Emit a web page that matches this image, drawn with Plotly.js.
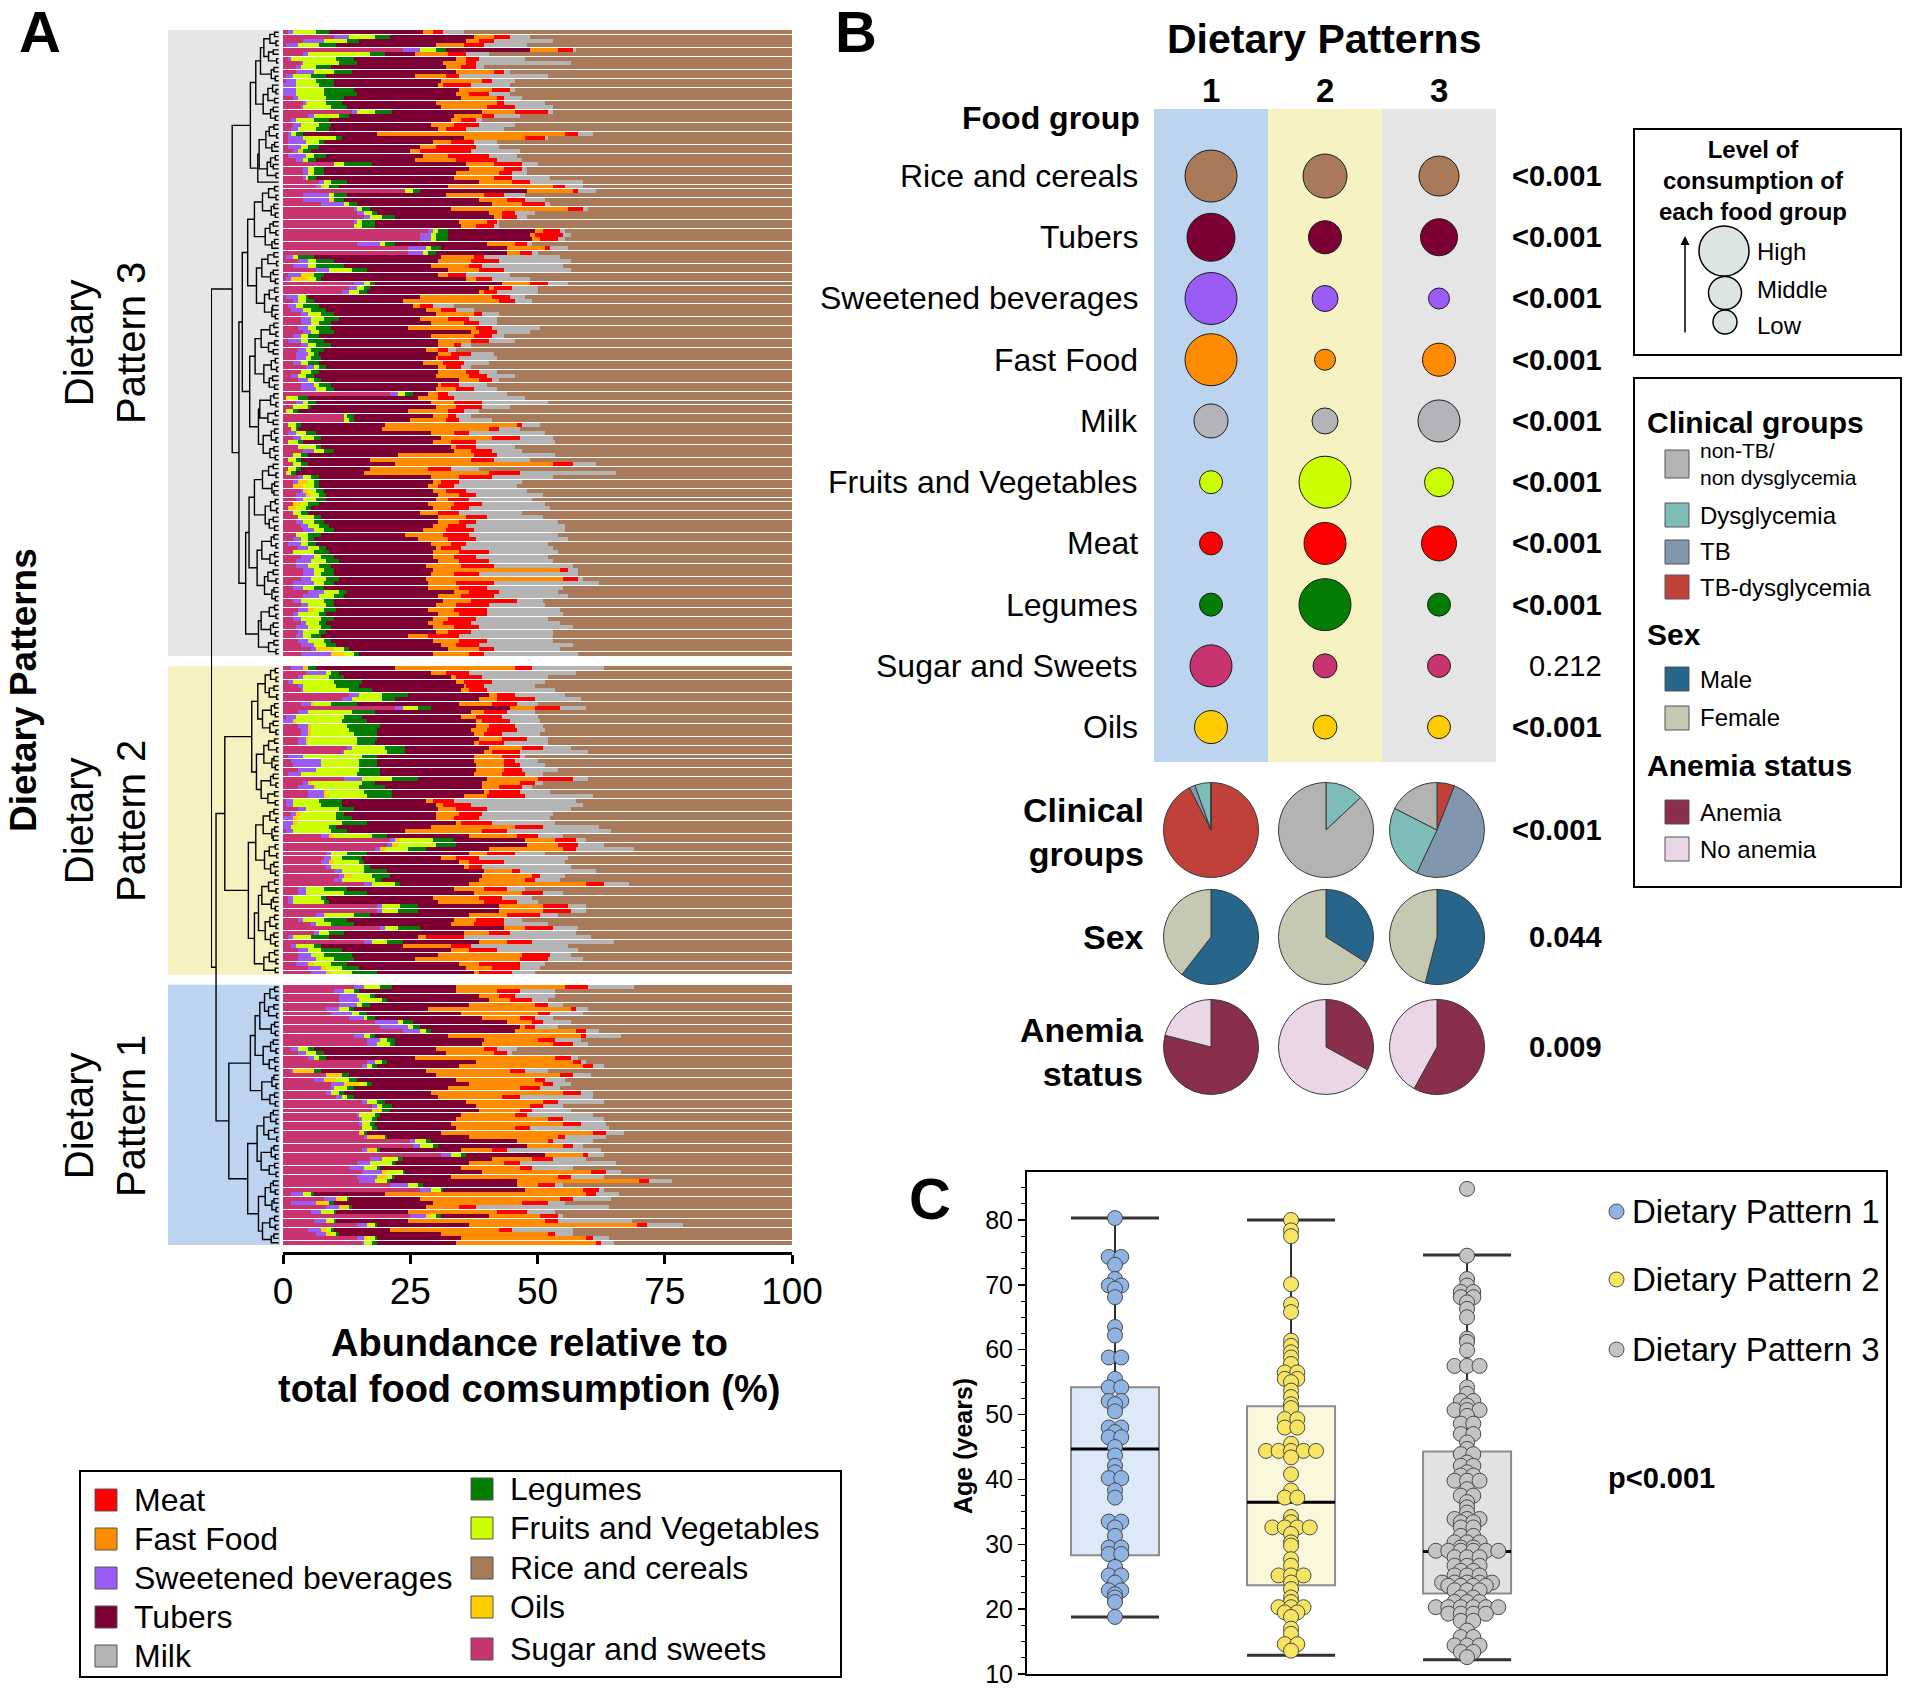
<!DOCTYPE html>
<html>
<head>
<meta charset="utf-8">
<title>Dietary patterns</title>
<script src="https://cdn.plot.ly/plotly-3.0.1.min.js"></script>
<style>
html,body{margin:0;padding:0;background:#ffffff;}
#chart{width:1905px;height:1688px;}
</style>
</head>
<body>
<div id="chart"></div>
<script>
// ====================== DATA ======================
// Panel A: food groups in stacking order (left to right) and colours
const foodGroups = ['Sugar and sweets','Sweetened beverages','Oils','Fruits and Vegetables','Legumes','Tubers','Fast Food','Meat','Milk','Rice and cereals'];
const foodColors = ['#c8346f','#9b5cf6','#ffcc00','#ccff00','#037d03','#7d0034','#ff8c00','#ff0000','#b4b4b4','#a97a5a'];

// Dietary Pattern 3 (top block), % of total consumption per participant, rows top -> bottom
const sugar3 = [1,10,4,0.5,23.5,4,1,3.5,2.5,2.5, 0.5,0.5,0,0,0,2,4,3.5,13.5,5, 1.5,2,1.5,1,1,1,1,2,1,2.5, 10,4,4,4,7,6.5,24,4,4,7.5, 14,14.5,16,14,14,28.5,27,27,14.5,24.5, 24.5,0.5,3,2,6.5,1,0.5,14,13,11.5, 0.5,2,1,1.5,3.5,3.5,3.5,3,4,2, 1,3.5,3,2.5,2.5,2,4.5,3.5,1.5,3, 3.5,3.5,21,0.5,2.5,2,0.5,12,12,1, 1.5,1,2,1,3,4,2,1,2,1, 0.5,3,2,2,3.5,2.5,2.5,2,1,2, 3,2.5,3.5,4,2.5,2,1,3,2,3.5, 2.5,2.5,4,4,3.5,2,2,5,4,2, 3.5,3,2,2,3.5,2.5,3,2.5,3,3.5, 5.5,3.5];
const bev3 = [1,3,4,2.5,3.5,1,0.5,0.5,1,3.5, 1.5,2,2.5,2.5,2.5,1,0.5,0.5,1,1, 1,1.5,1.5,0.5,3,3.5,2.5,1,3.5,1.5, 0,1,1,0.5,1,1,0,5,5,4.5, 0.5,1.5,1,0.5,0,1,2,2,4.5,3.5, 3,1.5,2,3,2.5,2.5,1,2,1.5,1.5, 2.5,1,1.5,2.5,1.5,2,2,2,1.5,1.5, 2.5,1.5,1.5,2.5,2,1.5,1.5,0,1.5,2, 2.5,3,1.5,0,1.5,0,0,0,0,0, 0,1.5,1.5,0,0,2,0,0,0,0, 0,1,1,0,0.5,2,1.5,0,0,0, 0,1.5,1.5,2,0,1.5,2.5,2,0,2.5, 3,2.5,2,2,2,4,2,3,3,1.5, 1.5,2,1,1.5,1,2.5,1,1.5,2,2.5, 1,6];
const oils3 = [0,0,0,0,0,0,0,0,0,0, 0,0,0,0,0,0,0.5,0,0,0, 0,0,0,0,0,0,0,1,0,0, 0,0,0,0,0,0.5,0,0,1,0, 0,0,0,0,0,0,0,0,0,0, 0,0,0,0,0,2.5,3.5,0,0,0, 0,0,0,0,0,0,0,0,0,0, 0,0,0,0,0,0,0,0,0,0, 0,0,0,0,0,0,0,0,0,0, 0,0,0,0,0,0,0,0,0,0, 0,0,2,2,1,1,0,1.5,1.5,0, 0,0,0,0,0,0,0,0,0,0, 0,0,0,0,0,0,0,0,0,0, 0,1,0,0,0,0,0,0,0,0, 3.5,2.5];
const fruit3 = [4.5,5,4.5,4,3,12,9,7,3,4, 3.5,4,4.5,5.5,5.5,5.5,3.5,5.5,3.5,5, 3.5,3.5,3.5,1,6.5,2.5,1.5,0,1.5,1, 2,1,1,0.5,1.5,1,1.5,1,0,1, 1,1.5,2.5,1,1.5,1,1,1,1,1, 1,1,1.5,1.5,4.5,0,1.5,1,1.5,2, 1.5,1.5,1.5,1.5,2.5,2.5,1.5,1.5,1.5,1.5, 1.5,1.5,1,1,1,1.5,1,2,1.5,1, 1,2,1.5,2.5,1,3,1.5,0.5,1,1.5, 1,2,2.5,2,3.5,2,1.5,1.5,1.5,1.5, 1,1.5,1,2,1.5,1.5,2.5,1.5,2,1.5, 3,2,2,2,2.5,1.5,1.5,2,4,1.5, 3,2,2,1.5,3,2,2,3,3,4.5, 3.5,2,4,4,2.5,2.5,3,1.5,3,2.5, 2,2];
const legume3 = [2.5,3,2.5,3.5,2,3,3.5,3.5,3,3.5, 3,3.5,3,6,6.5,3.5,3,3,3.5,2, 3,2.5,2.5,1.5,1,1,2,1.5,2.5,1.5, 5.5,2,2,1.5,3,2,1.5,2.5,2,1.5, 1.5,1,2.5,2.5,2.5,2,2.5,2.5,2,2, 1.5,3,3.5,5.5,3,2,1,1,1,1.5, 0.5,1.5,3,3,2.5,3,2.5,3,3,2, 3,3,2.5,1,2,2,1.5,1.5,1.5,1.5, 2.5,1.5,1.5,2,1.5,0.5,1,1.5,1,1, 0.5,2,1.5,1,1,2,1.5,1,1.5,1, 1,1.5,1,1,1.5,1.5,2,2,1,1.5, 1.5,2,2,2,2.5,1,1.5,1.5,3,2.5, 2.5,2.5,2,2.5,2.5,2,2,1.5,2,2, 1.5,2.5,1.5,2.5,1.5,2,1.5,2,1.5,2, 1,1];
const tuber3 = [18.5,16.5,21,19.5,16.5,6,20,17,22.5,20.5, 17.5,21,20.5,20.5,19.5,23,18.5,18.5,17.5,20.5, 24,19.5,21.5,14.5,24,21.5,20,19.5,19,19.5, 18.5,28.5,26,27,26,21.5,21,19.5,26.5,26.5, 16,22,19.5,16.5,17,17,16,16.5,18,13, 14,25,20.5,17,16,22.5,28.5,25,23.5,22, 22,17.5,18.5,19.5,20,16,19.5,15,27,22, 22.5,21,20,23.5,22.5,20.5,22,23.5,24,27, 21,20,3,21.5,22.5,24.5,21.5,15.5,11,16.5, 16.5,22.5,23.5,25.5,25.5,23.5,17.5,13.5,17,13.5, 13.5,22,22.5,21.5,21.5,22,21.5,21.5,24,22, 23,22.5,20.5,17.5,16.5,20.5,22.5,21.5,20.5,19.5, 19.5,18.5,19.5,19,17,18.5,20.5,21,18.5,21.5, 20,18,22,19.5,20,20,21.5,17,20,20.5, 19.5,14.5];
const fast3 = [2,4,2.5,5.5,5.5,6.5,2,4.5,3,7.5, 6,8,1,6.5,2.5,7,12,9,6.5,5.5, 2,4.5,1.5,37,12,3.5,3,2,5,8, 5.5,7,8.5,8,6.5,20.5,9,7.5,5.5,6, 23,2.5,1.5,5.5,3,1.5,1,1.5,5.5,7.5, 2.5,6.5,6.5,7.5,6,2,2,5.5,1,1, 14,19,1.5,3,7.5,5.5,6.5,13.5,1.5,8.5, 6.5,3,2.5,2.5,0.5,4,1.5,5.5,6.5,4, 0.5,4,2,4,4.5,4,8,3,7,26, 21,4.5,10,3.5,1,3.5,15,20,31,11.5, 24.5,5.5,1.5,2,2.5,4,2.5,5,3.5,3.5, 5.5,4,3,4.5,7.5,6,4,1,5,4, 4,7,25,4.5,27,5.5,6,3,4.5,5.5, 4,5,4,3,3,4,2.5,4,5,3, 6,7];
const meat3 = [2,3,3,4,3,3.5,2.5,2,3,2, 2.5,2,5.5,3.5,4,1.5,1.5,5.5,6.5,2.5, 3,5,4,2.5,4,4.5,8,10,8,8, 5.5,3.5,2.5,3.5,3.5,2.5,1,4,3.5,4.5, 3,2.5,3,2,3.5,3.5,5.5,3.5,2.5,1, 2.5,2,5.5,2.5,5,3.5,3,3.5,3.5,2.5, 3.5,3,2.5,3,1.5,4,3,3,3.5,3.5, 3.5,1.5,2,4,4,4,3,2.5,3.5,2.5, 3.5,3.5,2,3,5.5,5,3,1.5,2.5,1, 2,3,5.5,5,4,4,4.5,4.5,4,4.5, 6,6.5,3.5,3,4,3.5,4,5.5,3.5,4, 4,3.5,3.5,5.5,5,5.5,3,4,6,4.5, 6,6.5,1.5,5,3,7.5,5.5,6,6.5,9, 6.5,6.5,5.5,5.5,5.5,5,4.5,6,5.5,4.5, 3,3];
const milk3 = [4,4,11.5,8.5,0.5,4.5,9,18.5,1.5,1, 17.5,4.5,7.5,1,4,3.5,8,7.5,1,5, 1,7,7.5,3,0.5,4.5,4.5,9.5,5.5,5, 3,1,3,7.5,10.5,3.5,3.5,4,4,1, 1,4,2,0.5,1,1,1.5,1.5,1,3.5, 1,15,14,16,13,8.5,7.5,4,5,8, 3,3.5,4,3.5,3.5,5.5,3.5,9.5,6.5,2.5, 5,2,1.5,4.5,7.5,5,2,3.5,5.5,1.5, 5.5,4.5,11.5,14,13,5.5,3,3,6.5,3.5, 4,15,6.5,15.5,7.5,6,11.5,7,4.5,5.5, 19,12,12.5,12.5,12,13,12.5,12.5,16,12.5, 11,16,19.5,18,17.5,18,16,18,13.5,14, 12.5,15.5,2,19.5,1,20.5,15,11.5,14.5,5, 11,14.5,15,14,17.5,18.5,16,18.5,13,18.5, 13,18.5];

// Dietary Pattern 2 (middle block)
const sugar2 = [1.5,4.5,3,1,3,3.5,13,11.5,3.5,22, 3,0.5,0,3,3.5,3.5,3,3,12.5,11.5, 1,1.5,2,3,1,12,4,3,5,5, 0.5,0.5,3,1.5,0,0,0,0.5,7.5,21, 20.5,18,8.5,8,7.5,8.5,10,11,10,16, 3,3,1,1,18.5,18.5,6.5,3,5.5,19, 6,1,16,1.5,3,3,3,2.5,5,5.5];
const bev2 = [2.5,4,1,1,1,0.5,2,2,2,1.5, 2,2,2,2,1.5,1.5,1.5,1.5,1,0.5, 3,6,5.5,3.5,2.5,3.5,1,3,3,3, 1.5,1.5,1.5,1,2,2,1.5,1.5,1.5,1, 1,1,1,1.5,1.5,1,1.5,1,1.5,1.5, 1.5,1.5,1,1,1,1,1.5,1,1,1, 1,1,1.5,1,2,2.5,3.5,2.5,2.5,3];
const oils2 = [1,0,0,0,0,0,0,0,0.5,0, 0,0,0.5,0.5,0.5,0.5,0.5,0.5,0,0, 0,0,0,0,0,0,0.5,0.5,0.5,1, 0,0,0,1,1,1,0,0,1,1, 1,1,0,0,1,0,0,1.5,0,0, 0,0,0,0,0,0,0.5,0,0,0, 0,0,0,0,0,0,0,1,1,1];
const fruit2 = [0,1,5,8,6.5,9,4.5,6,3.5,3, 8.5,9.5,9,7,7.5,8.5,9.5,9.5,6.5,8.5, 11.5,7.5,7.5,8.5,11,6,10,8.5,7.5,7.5, 5,5.5,6.5,7,7.5,8.5,7.5,7.5,7.5,6.5, 7.5,4.5,3,2,5,6.5,4.5,4,6.5,4.5, 3.5,7.5,5.5,6,3.5,3,5.5,4,3,2.5, 2,3.5,3,3.5,2.5,2.5,3.5,3.5,3,4];
const legume2 = [1.5,1.5,3,5.5,4.5,4.5,5,2.5,5,2.5, 4.5,3.5,5,6.5,5.5,4.5,4,3.5,4,3.5, 3,3.5,3.5,4,4.5,5,2.5,5,5.5,5, 4.5,4,3,1.5,3,5,1.5,3,3,4, 4,3.5,4,4,1,1,4.5,3.5,1.5,1, 4.5,4.5,1,1,3.5,4,3,4.5,4.5,4.5, 3,3.5,3,1.5,4,5.5,4,3,3.5,5];
const tuber2 = [15.5,18,21,18.5,20.5,17.5,16,16.5,20,15.5, 19,19.5,21.5,19,18.5,19,20,19.5,16.5,15.5, 19,19,19.5,19,18.5,13.5,21,19,18,14, 16.5,18.5,16.5,18,16.5,17.5,18.5,11.5,16,14, 14,12.5,20,15.5,18.5,18.5,19,18,19,13.5, 21,21,21,21.5,16,16,19.5,21,19,16.5, 23.5,17.5,15,16,21.5,17,12,22,21,19];
const fast2 = [23.5,3,1,1.5,0.5,1.5,1.5,3.5,6.5,5, 2.5,3,1,2.5,3,2,4.5,1,6.5,1.5, 5.5,6,5.5,5.5,5.5,10,7.5,3.5,1,4.5, 1.5,1.5,3.5,4.5,3.5,1,16.5,15,9.5,6, 6,14.5,3.5,3,2,1,5.5,10,9,23, 6,9.5,9,9,8.5,8.5,7.5,4.5,4.5,4, 5,1.5,5.5,9.5,3.5,16.5,20.5,4,5,1];
const meat2 = [3.5,4.5,5,5.5,3.5,3.5,3.5,7.5,5,5, 4.5,5,5.5,5,6,3.5,5,5,4,5.5, 3.5,2,3,3.5,4.5,7,3,4.5,6,7.5, 4,5.5,6,4.5,5,6,5.5,5,4,4, 4,2.5,5.5,4.5,7,2.5,1.5,1.5,2,3.5, 4.5,4,4.5,6.5,5,5.5,6.5,5.5,6,5.5, 4,7.5,5,4,5.5,5.5,5.5,8,5.5,6.5];
const milk2 = [14,21,13,10.5,10,13.5,10,9,4,5, 5.5,7,6,5.5,5.5,7.5,4,8.5,5.5,13.5, 1,4.5,5,7,3.5,3,1.5,2,6,13.5, 24,22,16.5,14,14,12.5,11,20.5,5,2, 5,11.5,6,17.5,12,17.5,15,5,5,5, 3.5,4,6,4,3.5,3,3.5,3.5,8.5,5, 13,25,16,19,16,4,7,5,4,4.5];

// Dietary Pattern 1 (bottom block)
const sugar1 = [14,10,11,11,11,8.5,9.5,13,18,19, 23.5,14,16.5,16.5,1.5,3,5,16.5,15.5,1.5, 8.5,6,9.5,9.5,8.5,10.5,15.5,17.5,17.5,14.5, 15,15,15.5,15,16,25,25.5,15.5,31,17, 14.5,13,15.5,14.5,15,21,27,1.5,8,1.5, 8.5,5.5,25,6,14.5,5,6.5,14.5,15.5];
const bev1 = [2,2,3.5,4,3.5,2.5,4,3,4.5,5.5, 3.5,2,2.5,2,1.5,1.5,1,1.5,1,0.5, 0,2,2.5,0.5,1,1,1,1,0,0.5, 0.5,0.5,0,0,0.5,1,1.5,1,2,2.5, 2.5,3,4,4,3,3.5,2,2.5,2.5,5, 2.5,2,3,2.5,2,2.5,2,1.5,0.5];
const oils1 = [0,0,0,0,0,0,0,0,0,0, 0,0,0,0,0,0,0,0,0,4, 3,2.5,3,0,0,0,0,0,2,0, 0,0,0,1,3.5,0,0,2,0,0, 0,0,1,2,0,0,0,0,1,2.5, 2,0,1,0,0,1,1,0.5,0];
const fruit1 = [3,2,2.5,4.5,1,2,1.5,0.5,1,1, 1,1,1.5,2.5,2,2,1,1.5,1,0, 0,2.5,1.5,2.5,1.5,1,2,1,0,3, 2,1.5,2,0,0,2,2.5,0,2,3, 4.5,2.5,3,1,2.5,2,2,1.5,1,0, 0,2.5,1,1.5,1.5,1,1,1.5,1.5];
const legume1 = [2.5,1,1,1,1.5,1,1.5,1.5,2,1.5, 1,1,1.5,1,1,1.5,1.5,1,1,1.5, 1.5,1.5,1,1.5,1,1.5,1.5,2,1.5,1, 1,1,1,0.5,0.5,1,1,0.5,1,1, 0.5,0.5,0.5,0.5,0.5,1,0.5,0.5,0.5,1, 0.5,0.5,1,0.5,0.5,0.5,0.5,0.5,1];
const tuber1 = [12.5,19,20.5,20,19.5,14.5,18.5,21,18.5,19.5, 16.5,14.5,17.5,17,24,24,17.5,17.5,16,20.5, 17,19.5,19,18.5,17,16.5,16,16.5,17.5,16, 15.5,15,15.5,14.5,16,17,17.5,16,15.5,17.5, 14.5,16,15,11,25,18.5,16,14,14,19.5, 14.5,14,9.5,14,18,11,20,16.5,15.5];
const fast1 = [21.5,8,4,4,13,28,15,7.5,5,1, 12,26,10.5,14,9.5,9.5,27.5,19,24.5,16.5, 24.5,15.5,14.5,14,26,12.5,15,10.5,8,10.5, 18,22,11.5,30,17.5,6,7,6,7.5,8, 7,11.5,21.5,21,24,4,11.5,39.5,27.5,17.5, 6.5,17.5,10,27,33,21.5,21,24.5,27.5];
const meat1 = [4.5,4.5,3,4.5,2.5,1,2.5,3,2,2, 2,1,3.5,4,2.5,2.5,3,1.5,2,3, 2.5,2,2,4,3.5,3.5,3,2.5,2.5,2.5, 3,3.5,3,2.5,1.5,1,2,3,1,4, 3,2.5,3,2.5,2,3.5,3,2,2.5,5, 3.5,6,3.5,2.5,2,2.5,1.5,1.5,1];
const milk1 = [9,7,8,3,3,2.5,6.5,3.5,5.5,4.5, 2.5,7,5,3,4,1,1.5,1,2,4.5, 3.5,4,3.5,4,2.5,14.5,9,4,7.5,13, 8,5,15.5,3.5,8,8,2,18.5,3,6.5, 19,8,3,6.5,4.5,1.5,1,4.5,7.5,3.5, 26,5.5,1,14.5,7,12,3.5,3,2.5];

// Dendrogram: merge height between each pair of neighbouring leaves (top -> bottom)
const gaps3 = [0.6,1.3,0.4,2.2,0.8,1.5,0.3,2.7,0.7,1.1, 0.5,3.4,0.9,0.4,1.6,0.6,2.3,0.8,1.2,0.5, 4.2,0.7,1.4,0.3,1.9,0.6,1.0,2.9,0.5,1.2, 0.8,1.7,0.4,3.1,6.9,0.6,1.5,0.4,2.4,0.7, 1.1,0.5,3.6,0.8,1.3,0.4,2.0,0.6,1.0,4.6, 0.7,1.6,0.3,2.5,0.8,1.2,0.5,3.3,0.6,1.4, 0.4,2.1,0.9,1.0,0.5,5.4,0.7,1.3,0.4,2.6, 0.6,1.5,0.8,3.5,0.5,1.1,0.3,2.2,0.9,1.4, 0.6,4.3,0.7,1.2,0.4,2.8,0.5,1.6,0.8,3.0, 0.6,1.1,0.4,2.3,0.7,1.3,0.5,5.9,0.8,1.5, 0.4,2.4,0.6,1.0,0.7,3.6,0.5,1.2,0.3,2.0, 0.8,1.4,0.6,4.4,0.7,1.1,0.4,2.5,0.6,1.3, 0.5,3.2,0.8,1.6,0.4,2.1,0.7,1.0,0.5,4.9, 0.6,1.4,0.4,2.6,0.8,1.2,0.5,3.0,0.7,1.5, 0.4];
const join32 = 10;
const gaps2 = [0.5,1.2,0.4,2.0,0.7,1.4,0.3,3.1,0.6,1.1, 0.5,2.4,0.8,1.3,0.4,4.0,0.6,1.5,0.3,2.2, 0.7,1.0,0.5,3.3,0.8,1.2,0.4,2.6,0.6,1.6, 0.5,8.0,0.7,1.3,0.4,2.3,0.6,1.0,0.8,3.4, 0.5,1.4,0.3,2.1,0.7,1.2,0.5,4.5,0.6,1.5, 0.4,2.5,0.8,1.1,0.5,3.0,0.6,1.3,0.4,2.0, 0.7,1.2,0.5,3.6,0.6,1.4,0.4,2.2,0.5];
const join21 = 9.3;
const gaps1 = [0.6,1.3,0.4,2.1,0.7,1.5,0.3,2.8,0.6,1.1, 0.5,3.5,0.8,1.2,0.4,2.3,0.6,1.4,0.5,4.2, 0.7,1.0,0.4,2.5,0.6,1.3,0.5,7.4,0.8,1.2, 0.4,2.2,0.6,1.5,0.3,3.2,0.7,1.1,0.5,2.6, 0.6,1.4,0.4,4.6,0.8,1.2,0.5,2.0,0.7,1.0, 0.4,3.0,0.6,1.3,0.5,2.4,0.7,1.1];

// Panel A legend (two columns)
const legendColLeft = ['Meat','Fast Food','Sweetened beverages','Tubers','Milk'];
const legendColRight = ['Legumes','Fruits and Vegetables','Rice and cereals','Oils','Sugar and sweets'];

// Panel B: level of consumption (bubble diameter) per food group and pattern
const bubbleFoods = ['Rice and cereals','Tubers','Sweetened beverages','Fast Food','Milk','Fruits and Vegetables','Meat','Legumes','Sugar and Sweets','Oils'];
const bubbleColors = ['#a97a5a','#7d0034','#9b5cf6','#ff8c00','#b4b4b8','#ccff00','#ff0000','#037d03','#c8346f','#ffcc00'];
const bubbleSize1 = [52,48,52,52,34,23,23,23,42,33];
const bubbleSize2 = [44,33,26,21,26,52,42,52,24,24];
const bubbleSize3 = [40,37,21,33,42,29,35,23,23,23];
const foodPValues = ['<0.001','<0.001','<0.001','<0.001','<0.001','<0.001','<0.001','<0.001','0.212','<0.001'];
const patternLabels = ['1','2','3'];

// Panel B pies (%), slices clockwise from 12 o'clock
const clinicalLabels = ['TB-dysglycemia','TB','Dysglycemia','non-TB/non dysglycemia'];
const clinicalColors = ['#c0403a','#8097ae','#7fbcb7','#b3b3b3'];
const clinical1 = [92.5,2,5.5,0];
const clinical2 = [0,0,13,87];
const clinical3 = [6,51,25.5,17.5];
const sexLabels = ['Male','Female'];
const sexColors = ['#28658a','#c6c9b2'];
const sex1 = [60.5,39.5];
const sex2 = [34,66];
const sex3 = [54,46];
const anemiaLabels = ['Anemia','No anemia'];
const anemiaColors = ['#8a2f4b','#ebd6e8'];
const anemia1 = [79,21];
const anemia2 = [33,67];
const anemia3 = [58,42];
const piePValues = ['<0.001','0.044','0.009'];

// Panel C: age (years)
const boxQ1 = [28.3,23.7,22.4];
const boxMedian = [44.7,36.5,28.9];
const boxQ3 = [54.2,51.3,44.3];
const boxLow = [18.8,12.9,12.2];
const boxHigh = [80.3,80,74.6];
const age1 = [80.3,74.3,74.3,73.1,70.9,69.9,69.9,69.4,68.1,63.5,62.2,58.8,58.8,55.5,54.2,54.2,52.1,52.1,51.6,50.5,48,48,47.3,46.5,46.5,45,43.7,42.1,41.1,40.2,40.2,38.3,37.2,33.5,33.5,32.6,31.3,29.5,29.5,28.5,28.5,26.5,25.2,25.2,24.1,22.9,22.9,22.3,21.8,21.1,18.8];
const age2 = [80,78.4,77.5,70.1,67,65.8,61.4,60.6,59.6,58.8,57.8,56.5,56.5,55.5,55.5,55,53.7,52.7,51.6,51,49.3,49.3,48,48,45.5,44.4,44.4,44.4,44.4,44.4,43.4,40.8,38.3,37.2,37.2,34.2,33.4,32.6,32.6,32.6,32.6,31.6,30.3,29.8,27.7,26.7,25.2,25.2,25.2,24.1,23.1,21.8,21.1,20.3,20.3,20.3,19.5,19.5,18.8,17,16.2,14.6,14.6,13.6];
const age3 = [84.8,74.5,70.9,69.9,68.9,68.9,68.1,68.1,67.3,66.3,65,61.7,61.2,59.9,57.5,57.5,57.5,54.2,53.2,52.1,52.1,51.4,50.7,50.7,50.7,49.8,48.6,48.6,47,47,45.7,44.7,43.9,43.9,42.6,42.1,42.1,41.1,40.6,40.6,39.8,39.8,39.8,38.5,37.5,37.5,36.5,35.7,34.9,33.9,33.9,33.9,33.4,33.4,32.6,32.6,31.3,31.3,30.3,30.3,30.3,29.5,29.5,29,29,29,29,29,29,28,28,28,26.7,26.7,26.7,25.9,25.9,25.2,25.2,25.2,24.1,24.1,24.1,24.1,24.1,23.6,23.6,23.6,23.6,22.9,22.9,22.9,21.8,21.8,21.1,21.1,21.1,20.3,20.3,20.3,20.3,20.3,20.3,19.3,19.3,19.3,19.3,18.2,18.2,16.7,15.7,15.7,14.4,14.4,14.4,13.4,13.4,12.6];
const patternNames = ['Dietary Pattern 1','Dietary Pattern 2','Dietary Pattern 3'];
const patternPointColors = ['#8fb4e3','#f7e463','#c4c4c4'];
const patternBoxFill = ['#dde9f8','#fbf7dc','#e2e2e2'];
const agePValue = 'p<0.001';

// ====================== LAYOUT HELPERS ======================
const W = 1905, H = 1688;
const FONT = 'Liberation Sans, Arial, Helvetica, sans-serif';
const fx = v => v / W;
const fy = v => 1 - v / H;
const traces = [];
const shapes = [];
const annotations = [];
function txt(text, x, y, size, opts) {
  opts = opts || {};
  annotations.push(Object.assign({
    text: text, x: fx(x), y: fy(y), xref: 'paper', yref: 'paper', showarrow: false,
    font: {family: FONT, size: size, color: '#000'}, xanchor: 'center', yanchor: 'middle'
  }, opts));
}
const B = s => '<b>' + s + '</b>';

// ====================== PANEL A ======================
const blocks = [
  [sugar3,bev3,oils3,fruit3,legume3,tuber3,fast3,meat3,milk3],
  [sugar2,bev2,oils2,fruit2,legume2,tuber2,fast2,meat2,milk2],
  [sugar1,bev1,oils1,fruit1,legume1,tuber1,fast1,meat1,milk1]
];
const blockBand = ['#e6e6e6','#f6f1bf','#bdd4f1'];
const blockNames = ['Dietary<br>Pattern 3','Dietary<br>Pattern 2','Dietary<br>Pattern 1'];
const GAP = 2.3;
const nRows = blocks.map(b => b[0].length);
const totalUnits = nRows.reduce((a, b) => a + b, 0) + GAP * (blocks.length - 1);
const yPos = [];
const blockEdges = [];
let cursor = totalUnits - 1;
nRows.forEach(n => {
  const top = cursor + 0.5;
  for (let i = 0; i < n; i++) { yPos.push(cursor); cursor -= 1; }
  blockEdges.push([cursor + 0.5, top]);
  cursor -= GAP;
});
const series = [];
for (let s = 0; s < 9; s++) series.push(blocks.flatMap(b => b[s]));
// rice and cereals fills the rest of each 100% bar
series.push(yPos.map((_, i) => 100 - series.reduce((acc, ser) => acc + ser[i], 0)));
series.forEach((vals, s) => traces.push({
  type: 'bar', orientation: 'h', x: vals, y: yPos, name: foodGroups[s],
  marker: {color: foodColors[s], line: {width: 0}}, xaxis: 'x', yaxis: 'y',
  hoverinfo: 'skip', showlegend: false
}));

// dendrogram built from neighbour merge heights
const allGaps = gaps3.concat([join32], gaps2, [join21], gaps1);
const dX = [], dY = [];
function buildTree(lo, hi) {
  if (lo === hi) return {y: yPos[lo], h: 0};
  let k = lo;
  for (let i = lo; i < hi; i++) if (allGaps[i] > allGaps[k]) k = i;
  const L = buildTree(lo, k), R = buildTree(k + 1, hi), h = allGaps[k];
  dX.push(L.h, h, h, R.h, null);
  dY.push(L.y, L.y, R.y, R.y, null);
  return {y: (L.y + R.y) / 2, h: h};
}
buildTree(0, yPos.length - 1);
traces.push({type: 'scatter', mode: 'lines', x: dX, y: dY, xaxis: 'x2', yaxis: 'y',
  line: {color: '#000', width: 1.4}, hoverinfo: 'skip', showlegend: false});

blockEdges.forEach((e, i) => {
  shapes.push({type: 'rect', xref: 'paper', yref: 'y', x0: fx(168), x1: fx(280), y0: e[0], y1: e[1],
    fillcolor: blockBand[i], line: {width: 0}, layer: 'below'});
});

txt(B('A'), 40, 32, 58);
txt(B('Dietary Patterns'), 23, 690, 37, {textangle: -90});
const bandCenterPx = [343, 821, 1116];
blockNames.forEach((n, i) => txt(n, 105, bandCenterPx[i], 40, {textangle: -90}));
txt(B('Abundance relative to'), 529, 1343, 38);
txt(B('total food comsumption (%)'), 529, 1389, 38);

// Panel A legend
shapes.push({type: 'rect', xref: 'paper', yref: 'paper', x0: fx(80), x1: fx(841), y0: fy(1677), y1: fy(1471),
  line: {color: '#000', width: 2}, fillcolor: 'rgba(0,0,0,0)'});
const legRowsL = [1500, 1539, 1578, 1617, 1656];
const legRowsR = [1489, 1528, 1568, 1607, 1649];
function legendEntry(name, sx, tx, y) {
  const c = foodColors[foodGroups.indexOf(name)];
  shapes.push({type: 'rect', xref: 'paper', yref: 'paper', x0: fx(sx), x1: fx(sx + 22), y0: fy(y + 11), y1: fy(y - 11),
    fillcolor: c, line: {color: '#555', width: 1}});
  txt(name, tx, y, 32, {xanchor: 'left'});
}
legendColLeft.forEach((n, i) => legendEntry(n, 95, 132, legRowsL[i]));
legendColRight.forEach((n, i) => legendEntry(n, 471, 508, legRowsR[i]));

// ====================== PANEL B ======================
['#bdd4f1','#f7f2c2','#e5e5e5'].forEach((c, j) => shapes.push({type: 'rect', xref: 'x3', yref: 'paper',
  x0: j + 0.5, x1: j + 1.5, y0: fy(762), y1: fy(109), fillcolor: c, line: {width: 0}, layer: 'below'}));
[bubbleSize1, bubbleSize2, bubbleSize3].forEach((sz, j) => traces.push({
  type: 'scatter', mode: 'markers', x: sz.map(() => j + 1), y: sz.map((_, i) => i),
  marker: {size: sz, color: bubbleColors, line: {color: '#1a1a1a', width: 1}, opacity: 1},
  xaxis: 'x3', yaxis: 'y3', hoverinfo: 'skip', showlegend: false
}));
txt(B('B'), 856, 32, 58);
txt(B('Dietary Patterns'), 1324, 39, 41);
patternLabels.forEach((p, j) => annotations.push({text: B(p), x: j + 1, y: fy(90), xref: 'x3', yref: 'paper',
  showarrow: false, font: {family: FONT, size: 33, color: '#000'}, xanchor: 'center', yanchor: 'middle'}));
txt(B('Food group'), 1142, 118, 32, {xanchor: 'right'});
bubbleFoods.forEach((f, i) => {
  annotations.push({text: f, x: fx(1140), y: i, xref: 'paper', yref: 'y3', showarrow: false,
    font: {family: FONT, size: 32, color: '#000'}, xanchor: 'right', yanchor: 'middle'});
  const p = foodPValues[i];
  annotations.push({text: p.startsWith('<') ? B(p.replace('<', '&lt;')) : p, x: fx(1604), y: i, xref: 'paper', yref: 'y3',
    showarrow: false, font: {family: FONT, size: 29, color: '#000'}, xanchor: 'right', yanchor: 'middle'});
});

// pies
const pieCols = [1211, 1326, 1437];
const pieRows = [830, 937, 1047];
const pieR = 47.5;
const pieSets = [
  {vals: [clinical1, clinical2, clinical3], colors: clinicalColors, labels: clinicalLabels},
  {vals: [sex1, sex2, sex3], colors: sexColors, labels: sexLabels},
  {vals: [anemia1, anemia2, anemia3], colors: anemiaColors, labels: anemiaLabels}
];
pieSets.forEach((set, r) => set.vals.forEach((v, j) => traces.push({
  type: 'pie', values: v, labels: set.labels, sort: false, direction: 'clockwise', rotation: 0,
  marker: {colors: set.colors, line: {color: '#3a3a3a', width: 1}}, textinfo: 'none', hoverinfo: 'skip',
  showlegend: false,
  domain: {x: [fx(pieCols[j] - pieR), fx(pieCols[j] + pieR)], y: [fy(pieRows[r] + pieR), fy(pieRows[r] - pieR)]}
})));
txt(B('Clinical<br>groups'), 1146, 832, 34, {xanchor: 'right', align: 'right'});
txt(B('Sex'), 1146, 937, 34, {xanchor: 'right'});
txt(B('Anemia<br>status'), 1146, 1052, 34, {xanchor: 'right', align: 'right'});
piePValues.forEach((p, r) => txt(B(p.replace('<', '&lt;')), 1604, pieRows[r], 29, {xanchor: 'right'}));

// legend box 1: level of consumption
shapes.push({type: 'rect', xref: 'paper', yref: 'paper', x0: fx(1634), x1: fx(1901), y0: fy(355), y1: fy(129),
  line: {color: '#000', width: 2}, fillcolor: 'rgba(0,0,0,0)'});
txt(B('Level of<br>consumption of<br>each food group'), 1753, 180, 24);
const levelCircles = [[1724, 251, 25, 'High', 251], [1725, 293, 16.5, 'Middle', 289], [1725, 322, 12, 'Low', 326]];
levelCircles.forEach(c => {
  shapes.push({type: 'circle', xref: 'paper', yref: 'paper', x0: fx(c[0] - c[2]), x1: fx(c[0] + c[2]),
    y0: fy(c[1] + c[2]), y1: fy(c[1] - c[2]), fillcolor: '#dde5e0', line: {color: '#000', width: 1.5}});
  txt(c[3], 1755, c[4], 24, {xanchor: 'left'});
});
annotations.push({text: '', x: fx(1685), y: fy(236), xref: 'paper', yref: 'paper', showarrow: true,
  ax: 0, ay: 98, arrowhead: 2, arrowsize: 1.2, arrowwidth: 1.5, arrowcolor: '#000'});

// legend box 2: pies
shapes.push({type: 'rect', xref: 'paper', yref: 'paper', x0: fx(1634), x1: fx(1901), y0: fy(887), y1: fy(378),
  line: {color: '#000', width: 2}, fillcolor: 'rgba(0,0,0,0)'});
function pieLegend(color, y, h) {
  h = h || 24;
  shapes.push({type: 'rect', xref: 'paper', yref: 'paper', x0: fx(1665), x1: fx(1689), y0: fy(y + h / 2), y1: fy(y - h / 2),
    fillcolor: color, line: {color: '#555', width: 1}});
}
txt(B('Clinical groups'), 1645, 422, 30, {xanchor: 'left'});
pieLegend(clinicalColors[3], 464, 28);
txt('non-TB/<br>non dysglycemia', 1698, 464, 21, {xanchor: 'left', align: 'left'});
pieLegend(clinicalColors[2], 515); txt(clinicalLabels[2], 1698, 515, 24, {xanchor: 'left'});
pieLegend(clinicalColors[1], 552); txt(clinicalLabels[1], 1698, 552, 24, {xanchor: 'left'});
pieLegend(clinicalColors[0], 587); txt(clinicalLabels[0], 1698, 587, 24, {xanchor: 'left'});
txt(B('Sex'), 1645, 634, 30, {xanchor: 'left'});
pieLegend(sexColors[0], 679); txt(sexLabels[0], 1698, 679, 24, {xanchor: 'left'});
pieLegend(sexColors[1], 718); txt(sexLabels[1], 1698, 718, 24, {xanchor: 'left'});
txt(B('Anemia status'), 1645, 765, 30, {xanchor: 'left'});
pieLegend(anemiaColors[0], 812); txt(anemiaLabels[0], 1698, 812, 24, {xanchor: 'left'});
pieLegend(anemiaColors[1], 849); txt(anemiaLabels[1], 1698, 849, 24, {xanchor: 'left'});

// ====================== PANEL C ======================
const C_X0 = 1027, C_X1 = 1886, C_Y0 = 1172, C_Y1 = 1674;
const cxRange = [-0.5, 4.38], cyRange = [10, 87.4];
const xPxPerUnit = (C_X1 - C_X0) / (cxRange[1] - cxRange[0]);
const BOXW = 0.5;
// dot-plot layout: equal ages sit side by side, centred on the box
function dotOffsets(values) {
  const counts = {}, seen = {};
  values.forEach(v => { counts[v] = (counts[v] || 0) + 1; });
  return values.map(v => {
    const i = seen[v] || 0; seen[v] = i + 1;
    return (i - (counts[v] - 1) / 2) * 12.5 / xPxPerUnit;
  });
}
[age1, age2, age3].forEach((ages, g) => {
  traces.push({type: 'box', x: [g], q1: [boxQ1[g]], median: [boxMedian[g]], q3: [boxQ3[g]],
    lowerfence: [boxLow[g]], upperfence: [boxHigh[g]], width: BOXW, whiskerwidth: 1,
    fillcolor: patternBoxFill[g], line: {color: '#8c8c8c', width: 2}, boxpoints: false,
    xaxis: 'x4', yaxis: 'y4', hoverinfo: 'skip', showlegend: false});
  traces.push({type: 'scatter', mode: 'lines', x: [g, g, null, g, g], y: [boxLow[g], boxQ1[g], null, boxQ3[g], boxHigh[g]],
    line: {color: '#111', width: 1.5}, xaxis: 'x4', yaxis: 'y4', hoverinfo: 'skip', showlegend: false});
  traces.push({type: 'scatter', mode: 'lines', x: [g - BOXW / 2, g + BOXW / 2, null, g - BOXW / 2, g + BOXW / 2],
    y: [boxLow[g], boxLow[g], null, boxHigh[g], boxHigh[g]],
    line: {color: '#333', width: 3}, xaxis: 'x4', yaxis: 'y4', hoverinfo: 'skip', showlegend: false});
  traces.push({type: 'scatter', mode: 'lines', x: [g - BOXW / 2, g + BOXW / 2], y: [boxMedian[g], boxMedian[g]],
    line: {color: '#000', width: 3}, xaxis: 'x4', yaxis: 'y4', hoverinfo: 'skip', showlegend: false});
  const off = dotOffsets(ages);
  traces.push({type: 'scatter', mode: 'markers', x: ages.map((_, i) => g + off[i]), y: ages,
    marker: {size: 15, color: patternPointColors[g], line: {color: '#4a4a4a', width: 1}},
    xaxis: 'x4', yaxis: 'y4', hoverinfo: 'skip', showlegend: false, cliponaxis: false});
});
txt(B('C'), 930, 1198, 58);
txt(B('Age (years)'), 963, 1446, 25, {textangle: -90});
const cLegY = [1211, 1279, 1349];
patternNames.forEach((n, g) => {
  shapes.push({type: 'circle', xref: 'paper', yref: 'paper', x0: fx(1609), x1: fx(1624), y0: fy(cLegY[g] + 8), y1: fy(cLegY[g] - 7),
    fillcolor: patternPointColors[g], line: {color: '#4a4a4a', width: 1}});
  txt(n, 1630, cLegY[g], 33, {xanchor: 'left'});
});
txt(B(agePValue.replace('<', '&lt;')), 1661, 1478, 29);

// ====================== LAYOUT ======================
const layout = {
  width: W, height: H, margin: {l: 0, r: 0, t: 0, b: 0},
  paper_bgcolor: '#ffffff', plot_bgcolor: 'rgba(0,0,0,0)',
  font: {family: FONT, color: '#000'},
  barmode: 'stack', bargap: 0.1, showlegend: false,
  xaxis: {domain: [fx(283), fx(792)], range: [0, 100], tickvals: [0, 25, 50, 75, 100], ticks: 'outside',
    ticklen: 9, tickwidth: 3, tickcolor: '#000', showline: true, linewidth: 3, linecolor: '#000',
    ticklabelstandoff: -4,
    showgrid: false, zeroline: false, tickfont: {family: FONT, size: 37, color: '#000'}, anchor: 'y', fixedrange: true},
  yaxis: {domain: [fy(1252), fy(30)], range: [-2.1, totalUnits - 0.5], visible: false, anchor: 'x', fixedrange: true},
  xaxis2: {domain: [fx(211), fx(279)], range: [10.05, -0.05], visible: false, anchor: 'y', fixedrange: true},
  xaxis3: {domain: [fx(1154), fx(1496)], range: [0.5, 3.5], visible: false, anchor: 'y3', fixedrange: true},
  yaxis3: {domain: [fy(762), fy(109)], range: [9.57, -1.095], visible: false, anchor: 'x3', fixedrange: true},
  xaxis4: {domain: [fx(C_X0), fx(C_X1)], range: cxRange, showline: true, mirror: true, linewidth: 2, linecolor: '#000',
    ticks: '', showticklabels: false, showgrid: false, zeroline: false, anchor: 'y4', fixedrange: true},
  yaxis4: {domain: [fy(C_Y1), fy(C_Y0)], range: cyRange, tickvals: [10, 20, 30, 40, 50, 60, 70, 80],
    ticks: 'outside', ticklen: 7, tickwidth: 1.5, tickcolor: '#000', showline: true, mirror: true, linewidth: 2,
    linecolor: '#000', showgrid: false, zeroline: false, tickfont: {family: FONT, size: 25, color: '#000'},
    minor: {dtick: 2.5, ticks: 'outside', ticklen: 4, tickcolor: '#000', tickwidth: 1},
    anchor: 'x4', fixedrange: true},
  shapes: shapes, annotations: annotations
};
Plotly.newPlot('chart', traces, layout, {staticPlot: true, displayModeBar: false});
</script>
</body>
</html>
